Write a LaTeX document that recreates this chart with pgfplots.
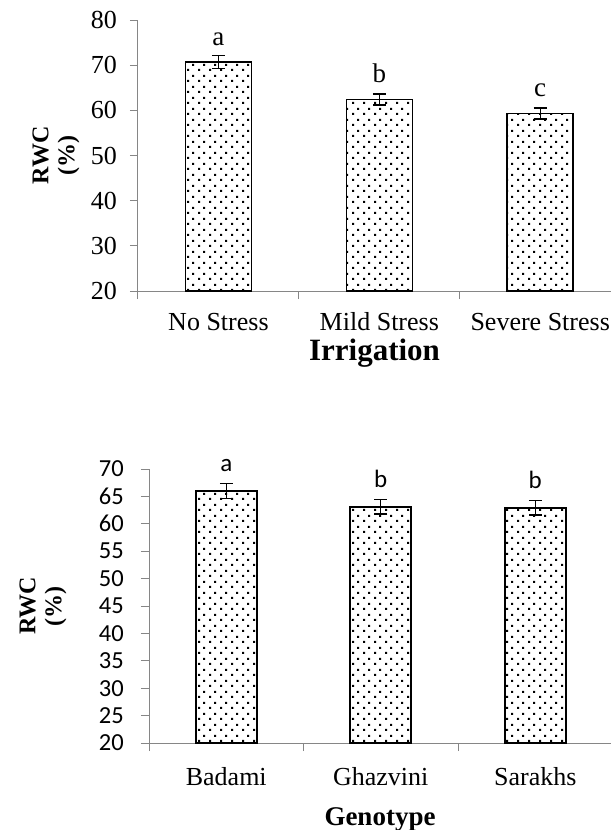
\documentclass[border=0pt]{standalone}
\usepackage{fontspec}
\setmainfont{Liberation Serif}
\newfontfamily\calibri{Carlito}
\usepackage{pgfplots}
\usepackage{pgfplotstable}
\pgfplotsset{compat=1.18}
\usetikzlibrary{patterns}
\pgfdeclarepatternformonly{exceldots}{\pgfpoint{0pt}{0pt}}{\pgfpoint{11pt}{11pt}}{\pgfpoint{11pt}{11pt}}{%
 \pgfpathrectangle{\pgfpoint{0pt}{0pt}}{\pgfpoint{2.3pt}{2.3pt}}%
 \pgfpathrectangle{\pgfpoint{5.5pt}{5.5pt}}{\pgfpoint{2.3pt}{2.3pt}}%
 \pgfusepath{fill}}
\definecolor{axgray}{HTML}{868686}

\pgfplotstableread{
x y e lab
0 70.7 1.4 a
1 62.4 1.2 b
2 59.3 1.2 c
}\irrig
\pgfplotstableread{
x y e lab
0 66.0 1.4 a
1 63.1 1.3 b
2 62.9 1.3 b
}\geno

\pgfplotsset{mystyle/.style={
  scale only axis,
  axis x line*=bottom, axis y line*=left,
  axis line style={axgray, line width=1pt},
  tick align=outside, major tick length=8pt,
  every tick/.style={axgray, line width=1pt},
  /pgf/number format/assume math mode=true,
  xtick={-0.5,0.5,1.5,2.5}, xticklabels={},
  extra x ticks={0,1,2},
  extra x tick style={major tick length=0pt},
  ybar, bar shift=0pt,
  clip=false,
  point meta=explicit symbolic,
  nodes near coords,
  ylabel style={at={(axis description cs:0,0.5)}, anchor=center, align=center, font=\fontsize{24}{26}\selectfont\bfseries},
  xlabel style={at={(axis description cs:0.5,0)}, anchor=base, font=\fontsize{31}{32}\selectfont\bfseries},
}}

\begin{document}
\begin{tikzpicture}
\path[use as bounding box] (0pt,0pt) rectangle (611pt,-830pt);

\begin{axis}[mystyle,
  at={(138pt,-291pt)}, anchor=south west,
  width=473pt, height=271pt,
  xmin=-0.5, xmax=2.44, ymin=20, ymax=80,
  ytick={20,30,...,80},
  yticklabel style={font=\fontsize{26}{26}\selectfont, anchor=east, inner sep=0pt, xshift=-13pt},
  extra x tick labels={No Stress, Mild Stress, Severe Stress},
  xticklabel style={font=\fontsize{26}{26}\selectfont, anchor=base, inner sep=0pt, yshift=-39pt},
  bar width=66pt,
  ylabel={RWC\\(\%)}, ylabel style={yshift=82pt},
  xlabel={Irrigation}, xlabel style={yshift=-69pt},
  nodes near coords style={font=\fontsize{27}{27}\selectfont, anchor=base, yshift=17pt, black},
]
\addplot+[draw=black, line width=1.6pt, fill=white, postaction={pattern=exceldots, pattern color=black},
  error bars/.cd, y dir=both, y explicit,
  error bar style={line width=1.4pt, black},
  error mark options={rotate=90, mark size=6.5pt, line width=1.4pt, black}]
  table[x=x, y=y, y error=e, meta=lab] {\irrig};
\end{axis}

\begin{axis}[mystyle,
  at={(149pt,-743pt)}, anchor=south west,
  width=462pt, height=274pt,
  xmin=-0.5, xmax=2.49, ymin=20, ymax=70,
  ytick={20,25,...,70},
  yticklabel style={font=\calibri\fontsize{24.5}{24.5}\selectfont, anchor=east, inner sep=0pt, xshift=-17pt},
  extra x tick labels={Badami, Ghazvini, Sarakhs},
  xticklabel style={font=\fontsize{26}{26}\selectfont, anchor=base, inner sep=0pt, yshift=-42pt},
  bar width=61pt,
  ylabel={RWC\\(\%)}, ylabel style={yshift=106pt},
  xlabel={Genotype}, xlabel style={yshift=-82pt, font=\fontsize{27}{28}\selectfont\bfseries},
  nodes near coords style={font=\calibri\fontsize{25}{25}\selectfont, anchor=base, yshift=19pt, black},
]
\addplot+[draw=black, line width=1.6pt, fill=white, postaction={pattern=exceldots, pattern color=black},
  error bars/.cd, y dir=both, y explicit,
  error bar style={line width=1.4pt, black},
  error mark options={rotate=90, mark size=6.5pt, line width=1.4pt, black}]
  table[x=x, y=y, y error=e, meta=lab] {\geno};
\end{axis}
\end{tikzpicture}
\end{document}
